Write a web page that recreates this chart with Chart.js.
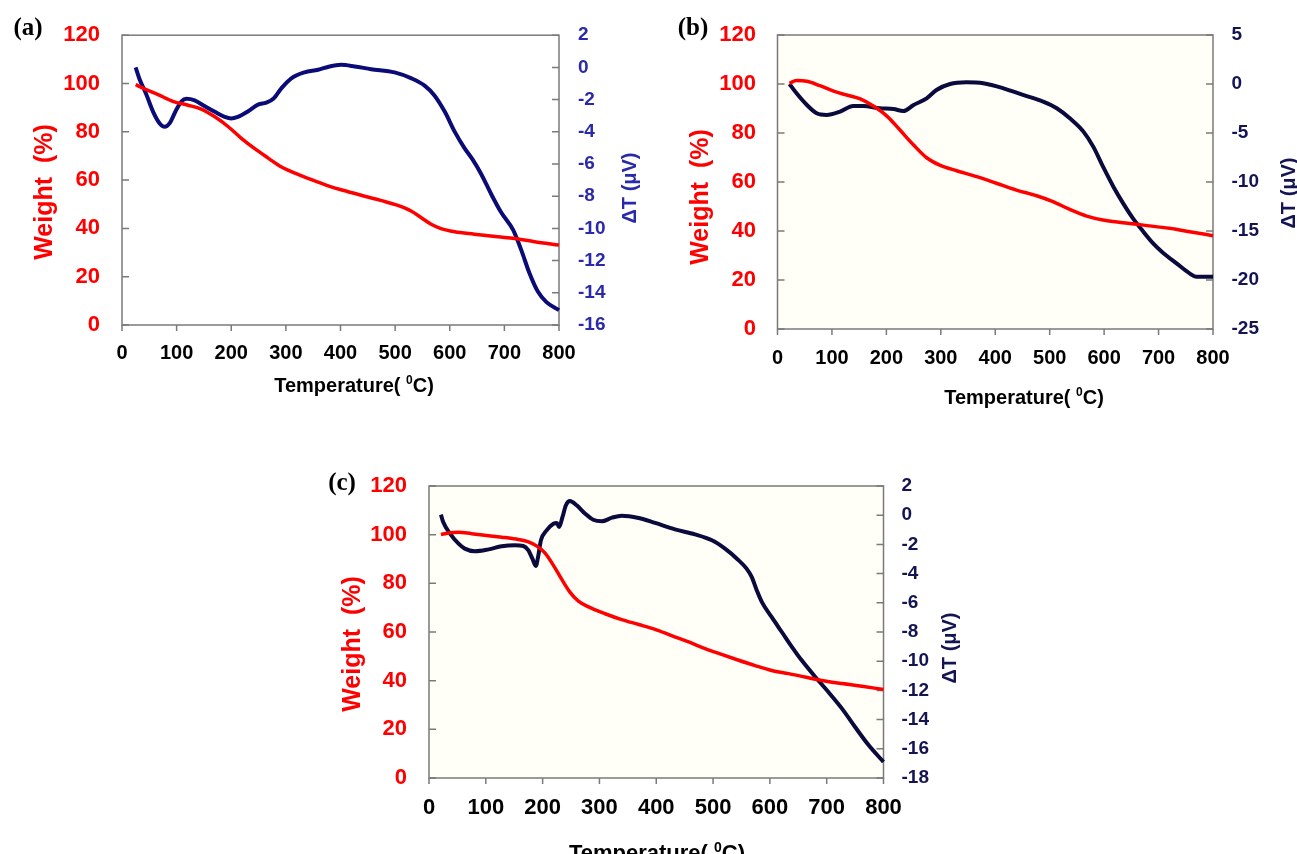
<!DOCTYPE html>
<html>
<head>
<meta charset="utf-8">
<script src="https://cdn.jsdelivr.net/npm/chart.js@4.4.1/dist/chart.umd.min.js"></script>
<style>
  html, body { margin: 0; padding: 0; background: #fff; }
  #wrap { position: relative; width: 1297px; height: 854px; overflow: hidden; }
  canvas { position: absolute; left: 0; top: 0; }
</style>
</head>
<body>
<div id="wrap">
  <canvas id="chartA" width="1297" height="854"></canvas>
  <canvas id="chartB" width="1297" height="854"></canvas>
  <canvas id="chartC" width="1297" height="854"></canvas>
</div>
<script>
// ---- data ----
const tempTicks = [0, 100, 200, 300, 400, 500, 600, 700, 800];
const weightTicks = [0, 20, 40, 60, 80, 100, 120];
const dtTicksA = [-16, -14, -12, -10, -8, -6, -4, -2, 0, 2];
const dtTicksB = [-25, -20, -15, -10, -5, 0, 5];
const dtTicksC = [-18, -16, -14, -12, -10, -8, -6, -4, -2, 0, 2];

// (a)
const tempA_w = [25, 41, 66, 93, 121, 145, 170, 194, 218, 243, 267, 292, 322, 353, 383, 414, 444, 475, 505, 530, 548, 566, 584, 609, 645, 688, 719, 755, 800];
const weightA = [99.5, 97.8, 95.4, 92.6, 91.0, 89.4, 86.2, 82.2, 77.4, 73.0, 69.2, 65.4, 62.4, 59.7, 57.2, 55.2, 53.3, 51.5, 49.5, 47.1, 44.4, 41.7, 39.9, 38.6, 37.6, 36.5, 35.8, 34.5, 33.1];
const tempA_dt = [25, 32, 44, 57, 69, 78, 87, 99, 109, 118, 133, 151, 170, 188, 200, 212, 231, 249, 264, 277, 292, 310, 334, 359, 380, 401, 426, 456, 499, 530, 554, 572, 591, 609, 627, 642, 658, 676, 694, 716, 731, 746, 761, 777, 800];
const dtA = [0.0, -0.72, -1.64, -2.76, -3.48, -3.69, -3.48, -2.66, -2.11, -1.95, -2.05, -2.40, -2.76, -3.07, -3.17, -3.07, -2.72, -2.31, -2.19, -1.95, -1.29, -0.68, -0.31, -0.15, 0.06, 0.16, 0.06, -0.11, -0.31, -0.68, -1.13, -1.74, -2.76, -3.99, -5.01, -5.73, -6.65, -7.88, -9.0, -10.09, -11.35, -12.79, -13.91, -14.58, -15.08];

// (b)
const tempB_w = [22, 35, 54, 78, 103, 127, 152, 176, 201, 225, 250, 274, 298, 329, 366, 402, 439, 476, 506, 537, 568, 598, 635, 672, 720, 757, 800];
const weightB = [100.3, 101.4, 101.1, 99.3, 97.1, 95.5, 93.9, 91.0, 86.9, 81.2, 75.1, 69.9, 66.9, 64.6, 62.2, 59.5, 56.7, 54.4, 52.0, 48.8, 46.1, 44.5, 43.4, 42.4, 41.1, 39.7, 38.1];
const tempB_dt = [22, 35, 54, 72, 90, 115, 139, 158, 188, 213, 231, 250, 274, 292, 317, 347, 378, 415, 451, 488, 513, 537, 562, 580, 598, 617, 635, 653, 672, 690, 708, 733, 757, 769, 800];
const dtB = [0.0, -0.95, -2.14, -2.99, -3.16, -2.82, -2.24, -2.24, -2.48, -2.55, -2.76, -2.14, -1.46, -0.61, 0.0, 0.17, 0.07, -0.44, -1.12, -1.80, -2.48, -3.50, -4.86, -6.39, -8.44, -10.48, -12.18, -13.71, -15.07, -16.26, -17.21, -18.30, -19.32, -19.66, -19.66];

// (c)
const tempC_w = [21, 34, 52, 75, 105, 134, 157, 175, 190, 204, 219, 234, 248, 263, 281, 310, 339, 369, 398, 427, 457, 486, 515, 545, 574, 603, 633, 662, 691, 727, 762, 800];
const weightC = [100.0, 100.7, 101.0, 100.4, 99.6, 98.8, 98.0, 97.0, 95.3, 92.5, 87.4, 81.5, 76.4, 72.7, 70.3, 67.5, 65.1, 63.1, 61.1, 58.5, 55.9, 53.2, 50.8, 48.4, 46.2, 44.2, 42.9, 41.5, 40.1, 38.8, 37.7, 36.4];
const tempC_dt = [21, 25, 37, 52, 63, 81, 105, 128, 151, 166, 175, 182, 188, 192, 197, 207, 219, 225, 229, 235, 241, 248, 260, 275, 289, 304, 322, 339, 369, 398, 433, 468, 498, 521, 542, 559, 568, 577, 586, 603, 621, 639, 656, 680, 703, 727, 750, 774, 800];
const dtC = [0.04, -0.47, -1.26, -1.95, -2.29, -2.47, -2.34, -2.13, -2.06, -2.11, -2.41, -2.98, -3.48, -2.86, -1.72, -1.04, -0.58, -0.53, -0.81, -0.12, 0.68, 0.97, 0.68, 0.10, -0.31, -0.42, -0.17, -0.03, -0.19, -0.53, -0.97, -1.31, -1.72, -2.29, -2.98, -3.66, -4.23, -5.15, -5.95, -6.97, -8.0, -9.03, -9.94, -11.08, -12.11, -13.25, -14.51, -15.76, -16.9];

const SANS = "'Liberation Sans', Arial, Helvetica, sans-serif";
const SERIF = "'Liberation Serif', 'Times New Roman', serif";
const RED = '#ff0000';

function toPoints(xs, ys) {
    return xs.map((x, i) => ({ x: x, y: ys[i] }));
}

function fixedTicks(values) {
    return function (scale) {
        scale.ticks = values.map(v => ({ value: v }));
    };
}

/**
 * Background of the plot, frame and the short tick marks
 * (inward on both y axes, outward on the temperature axis).
 */
function framePlugin(bg) {
    return {
        id: 'frame',
        beforeDraw(chart) {
            const { ctx, chartArea: a } = chart;
            ctx.save();
            ctx.fillStyle = bg;
            ctx.fillRect(a.left, a.top, a.right - a.left, a.bottom - a.top);
            ctx.restore();
        },
        beforeDatasetsDraw(chart) {
            const { ctx, chartArea: a, scales } = chart;
            ctx.save();
            ctx.strokeStyle = '#7a7a7a';
            ctx.lineWidth = 1.5;
            ctx.strokeRect(a.left, a.top, a.right - a.left, a.bottom - a.top);
            ctx.beginPath();
            scales.x.ticks.forEach(t => {
                const px = scales.x.getPixelForValue(t.value);
                ctx.moveTo(px, a.bottom);
                ctx.lineTo(px, a.bottom + 6);
            });
            scales.yW.ticks.forEach(t => {
                const py = scales.yW.getPixelForValue(t.value);
                ctx.moveTo(a.left, py);
                ctx.lineTo(a.left + 7, py);
            });
            scales.yT.ticks.forEach(t => {
                const py = scales.yT.getPixelForValue(t.value);
                ctx.moveTo(a.right, py);
                ctx.lineTo(a.right - 7, py);
            });
            ctx.stroke();
            ctx.restore();
        }
    };
}

/**
 * Axis titles and panel letters, drawn as text pieces (superscript supported).
 */
function textPlugin(items) {
    return {
        id: 'panelText',
        afterDraw(chart) {
            const ctx = chart.ctx;
            items.forEach(it => {
                ctx.save();
                ctx.translate(it.x, it.y);
                if (it.rot) ctx.rotate(it.rot);
                ctx.fillStyle = it.color;
                ctx.textBaseline = it.baseline || 'middle';
                ctx.textAlign = 'left';
                const parts = it.parts || [{ t: it.text }];
                const fontFor = p => `${it.weight || 'bold'} ${p.sup ? Math.round(it.size * 0.62) : it.size}px ${it.family || SANS}`;
                let total = 0;
                parts.forEach(p => { ctx.font = fontFor(p); total += ctx.measureText(p.t).width; });
                let cx = -total / 2;
                parts.forEach(p => {
                    ctx.font = fontFor(p);
                    ctx.fillText(p.t, cx, p.sup ? -it.size * 0.38 : 0);
                    cx += ctx.measureText(p.t).width;
                });
                ctx.restore();
            });
        }
    };
}

function buildPanel(canvasId, p) {
    const ctx = document.getElementById(canvasId).getContext('2d');
    return new Chart(ctx, {
        type: 'line',
        data: {
            datasets: [
                {
                    label: 'Weight (%)',
                    data: toPoints(p.tw, p.w),
                    yAxisID: 'yW',
                    borderColor: RED,
                    borderWidth: 3.5,
                    pointRadius: 0,
                    cubicInterpolationMode: 'monotone',
                    clip: 4
                },
                {
                    label: 'ΔT (μV)',
                    data: toPoints(p.tdt, p.dt),
                    yAxisID: 'yT',
                    borderColor: p.lineBlue,
                    borderWidth: 4,
                    pointRadius: 0,
                    cubicInterpolationMode: 'monotone',
                    clip: 4
                }
            ]
        },
        options: {
            responsive: false,
            animation: false,
            events: [],
            layout: { padding: p.pad },
            plugins: { legend: { display: false }, tooltip: { enabled: false } },
            scales: {
                x: {
                    type: 'linear',
                    position: 'bottom',
                    min: tempTicks[0], max: tempTicks[tempTicks.length - 1],
                    afterBuildTicks: fixedTicks(tempTicks),
                    afterFit: s => { s.height = 60; },
                    grid: { display: false, drawTicks: false },
                    border: { display: false },
                    ticks: { color: '#000', padding: p.xPad, maxRotation: 0, autoSkip: false,
                             font: { family: SANS, size: p.xFont, weight: 'bold' } }
                },
                yW: {
                    type: 'linear',
                    position: 'left',
                    min: weightTicks[0], max: weightTicks[weightTicks.length - 1],
                    afterBuildTicks: fixedTicks(weightTicks),
                    afterFit: s => { s.width = p.leftW; },
                    grid: { display: false, drawTicks: false },
                    border: { display: false },
                    ticks: { color: RED, padding: p.lPad,
                             font: { family: SANS, size: 22, weight: 'bold' } }
                },
                yT: {
                    type: 'linear',
                    position: 'right',
                    min: p.dtTicks[0], max: p.dtTicks[p.dtTicks.length - 1],
                    afterBuildTicks: fixedTicks(p.dtTicks),
                    afterFit: s => { s.width = p.rightW; },
                    grid: { display: false, drawTicks: false },
                    border: { display: false },
                    ticks: { color: p.tickBlue, padding: p.rPad,
                             font: { family: SANS, size: 19, weight: 'bold' } }
                }
            }
        },
        plugins: [framePlugin(p.bg), textPlugin(p.texts)]
    });
}

const tempTitle = [{ t: 'Temperature( ' }, { t: '0', sup: true }, { t: 'C)' }];

// panel (a): plot area 122..559 x 31..325
buildPanel('chartA', {
    tw: tempA_w, w: weightA, tdt: tempA_dt, dt: dtA, dtTicks: dtTicksA,
    pad: { left: 0, right: 637, top: 31, bottom: 469 },
    leftW: 122, rightW: 101, lPad: 22, rPad: 19, xPad: 16, xFont: 20,
    bg: '#ffffff', lineBlue: '#0b0b78', tickBlue: '#2a2aa8',
    texts: [
        { text: '(a)', x: 28, y: 29, size: 25, family: SERIF, color: '#000' },
        { text: 'Weight  (%)', x: 45, y: 192, rot: -Math.PI / 2, size: 25, color: RED },
        { text: 'ΔT (μV)', x: 630, y: 188, rot: -Math.PI / 2, size: 20, color: '#2a2aa8' },
        { parts: tempTitle, x: 354, y: 392, baseline: 'alphabetic', size: 20, color: '#000' }
    ]
});

// panel (b): plot area 777.5..1213 x 35..329
buildPanel('chartB', {
    tw: tempB_w, w: weightB, tdt: tempB_dt, dt: dtB, dtTicks: dtTicksB,
    pad: { left: 677.5, right: 0, top: 35, bottom: 465 },
    leftW: 100, rightW: 84, lPad: 21.5, rPad: 18.5, xPad: 17.5, xFont: 20,
    bg: '#fffef7', lineBlue: '#0a0a3c', tickBlue: '#141452',
    texts: [
        { text: '(b)', x: 693, y: 29, size: 25, family: SERIF, color: '#000' },
        { text: 'Weight  (%)', x: 701, y: 197, rot: -Math.PI / 2, size: 25, color: RED },
        { text: 'ΔT (μV)', x: 1289, y: 193, rot: -Math.PI / 2, size: 20, color: '#141452' },
        { parts: tempTitle, x: 1024, y: 404, baseline: 'alphabetic', size: 20, color: '#000' }
    ]
});

// panel (c): plot area 429..883.5 x 486..778
buildPanel('chartC', {
    tw: tempC_w, w: weightC, tdt: tempC_dt, dt: dtC, dtTicks: dtTicksC,
    pad: { left: 329, right: 313.5, top: 486, bottom: 16 },
    leftW: 100, rightW: 100, lPad: 22, rPad: 18, xPad: 17, xFont: 22,
    bg: '#fffef7', lineBlue: '#0a0a3c', tickBlue: '#141452',
    texts: [
        { text: '(c)', x: 342, y: 484, size: 25, family: SERIF, color: '#000' },
        { text: 'Weight  (%)', x: 353, y: 644, rot: -Math.PI / 2, size: 25, color: RED },
        { text: 'ΔT (μV)', x: 950, y: 648, rot: -Math.PI / 2, size: 20, color: '#141452' },
        { parts: tempTitle, x: 657, y: 860, baseline: 'alphabetic', size: 22, color: '#000' }
    ]
});
</script>
</body>
</html>
